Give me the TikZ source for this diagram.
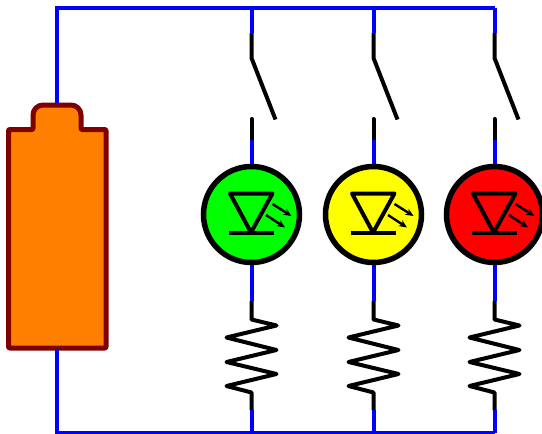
\documentclass[tikz,border=0pt]{standalone}
\usetikzlibrary{arrows.meta}
\definecolor{batfill}{HTML}{FF8000}
\definecolor{batline}{HTML}{800000}
\definecolor{wireblue}{HTML}{0000FF}
\definecolor{ledgreen}{HTML}{00FF00}
\definecolor{ledyellow}{HTML}{FFFF00}
\definecolor{ledred}{HTML}{FF0000}
\tikzset{
  wire/.style={draw=wireblue,line width=4pt},
  part/.style={draw=black,line width=4pt,line join=round},
  ray/.style={draw=black,line width=2.4pt,-{Stealth[length=8pt,width=7pt]}},
  lamp/.style={circle,draw=black,line width=5.5pt,minimum size=96pt,inner sep=0pt}
}
\begin{document}
\begin{tikzpicture}[x=1pt,y=-1pt]
  \useasboundingbox (0,0) rectangle (542,434);
  \clip (0,0) rectangle (542,434);

  % battery
  \draw[draw=batline,fill=batfill,line width=5pt,line join=round,rounded corners=1pt]
    (8.5,129.5) -- (33,129.5) -- (33,116) [rounded corners=10pt] -- (33,105) -- (81,105) [rounded corners=1pt] -- (81,129.5)
    -- (106,129.5) -- (106,348) -- (8.5,348) -- cycle;
  \coordinate (battop) at (57,103);
  \coordinate (batbot) at (57,350);
  \coordinate (topleft) at (57,8);
  \coordinate (botleft) at (57,433);
  \coordinate (topright) at (494.5,8);
  \coordinate (botright) at (494.5,433);
  \draw[wire] (battop) -- (topleft) -- (topright);
  \draw[wire] (batbot) -- (botleft) -- (botright);

  \foreach \i/\x/\c in {1/251.5/ledgreen, 2/373.5/ledyellow, 3/494.5/ledred}
  {
    \begin{scope}[shift={(\x,0)}]
      \coordinate (top\i) at (0,8);
      \coordinate (swa\i) at (0,33);
      \coordinate (swb\i) at (0,58);
      \coordinate (swc\i) at (24,119.5);
      \coordinate (swd\i) at (0,119);
      \coordinate (swe\i) at (0,140);
      \node[lamp,fill=\c] (led\i) at (0,214.5) {};
      \coordinate (resa\i) at (0,301);
      \coordinate (resb\i) at (0,410);
      \coordinate (bot\i) at (0,433);

      % switch
      \draw[wire] (top\i) -- (swa\i);
      \draw[part] (swa\i) -- (swb\i) -- (swc\i);
      \draw[part,line cap=round] (swd\i) -- (swe\i);
      \draw[wire] (swe\i) -- (led\i.north);

      % diode
      \coordinate (dia\i) at (-21.5,193.5);
      \coordinate (dib\i) at (21,193.5);
      \coordinate (dic\i) at (-0.5,232.5);
      \draw[part] (dia\i) -- (dib\i) -- (dic\i) -- cycle;
      \draw[part] (-22.5,232.5) -- (22,232.5);
      \draw[ray] (21,204) -- (40,216);
      \draw[ray] (14.5,215) -- (33.5,227.5);

      % resistor
      \draw[wire] (led\i.south) -- (resa\i);
      \draw[part] (resa\i) -- (0,319.5) -- (25,325.5) -- (-25,337.5) -- (25,350) -- (-25,362)
        -- (25,374) -- (-25,386) -- (0,392.5) -- (resb\i);
      \draw[wire] (resb\i) -- (bot\i);
    \end{scope}
  }
\end{tikzpicture}
\end{document}
